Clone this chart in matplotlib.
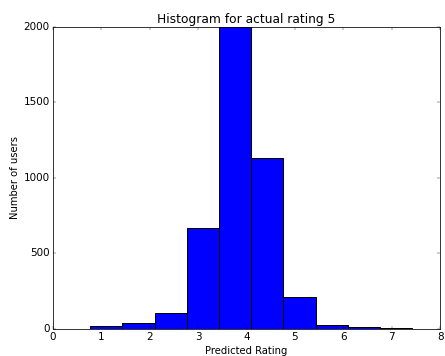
import numpy as np
import matplotlib
matplotlib.use('Agg')
import matplotlib.pyplot as plt

plt.style.use('classic')

# bin edges and counts
bin_edges = [0.77, 1.43, 2.10, 2.77, 3.43, 4.10, 4.76, 5.43, 6.09, 6.76, 7.41]
counts = [18, 39, 105, 666, 2300, 1129, 212, 25, 10, 5]

centers = [(a + b) / 2 for a, b in zip(bin_edges[:-1], bin_edges[1:])]

fig = plt.figure(figsize=(8, 6.4), dpi=55.625, facecolor='white')
ax = fig.add_axes([0.119, 0.077, 0.870, 0.847])

ax.hist(centers, bins=bin_edges, weights=counts, color='blue',
        edgecolor='black', linewidth=1.3)

ax.set_xlim(0, 8)
ax.set_ylim(0, 2000)
ax.tick_params(labelsize=13.5)
ax.set_xlabel('Predicted Rating', fontsize=13)
ax.set_ylabel('Number of users', fontsize=13)
ax.set_title('Histogram for actual rating 5', fontsize=15.8)

fig.savefig('out.png', dpi=55.625, facecolor='white')
